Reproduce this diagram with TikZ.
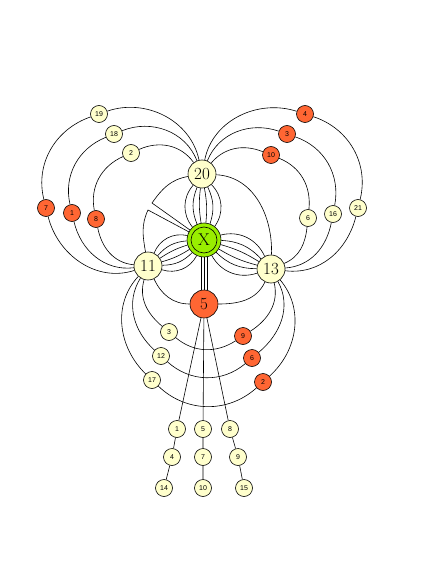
\documentclass[tikz,border=0pt]{standalone}
\usepackage{fontspec}
\setsansfont{Liberation Sans}
\definecolor{pale}{RGB}{255,255,204}
\definecolor{hotred}{RGB}{255,102,51}
\definecolor{xgreen}{RGB}{153,238,0}

\begin{document}
\begin{tikzpicture}[x=1pt,y=1pt,line width=0.6pt,
  bignode/.style={circle,draw,fill=pale,minimum size=28pt,inner sep=0pt,font=\fontsize{17}{17}\selectfont},
  smallnode/.style={circle,draw,fill=pale,minimum size=17pt,inner sep=0pt,font=\sffamily\fontsize{7}{7}\selectfont},
  rednode/.style={smallnode,fill=hotred}]
  \useasboundingbox (0,0) rectangle (436,-564);

  % centre and the four big ones
  \node[bignode,fill=xgreen,minimum size=34pt] (nX) at (204,-240) {X};
  \draw (nX.center) circle (13);
  \node[bignode] (n20) at (202,-174) {20};
  \node[bignode] (n11) at (148,-266) {11};
  \node[bignode] (n13) at (271,-269) {13};
  \node[bignode,fill=hotred] (n5) at (204,-304) {5};

  % left petal
  \node[smallnode] (l19) at (99,-114) {19};
  \node[smallnode] (l18) at (114,-134) {18};
  \node[smallnode] (l2) at (131,-153) {2};
  \node[rednode] (l7) at (46,-208) {7};
  \node[rednode] (l1) at (72,-213) {1};
  \node[rednode] (l8) at (96,-219) {8};

  % right petal
  \node[rednode] (r4) at (305,-114) {4};
  \node[rednode] (r3) at (287,-134) {3};
  \node[rednode] (r10) at (271,-155) {10};
  \node[smallnode] (r6) at (308,-218) {6};
  \node[smallnode] (r16) at (333,-214) {16};
  \node[smallnode] (r21) at (358,-208) {21};

  % bottom petal
  \node[smallnode] (b3) at (169,-332) {3};
  \node[smallnode] (b12) at (161,-356) {12};
  \node[smallnode] (b17) at (152,-380) {17};
  \node[rednode] (b9) at (243,-336) {9};
  \node[rednode] (b6) at (252,-358) {6};
  \node[rednode] (b2) at (263,-382) {2};

  % chains under 5
  \node[smallnode] (c1) at (177,-429) {1};
  \node[smallnode] (c4) at (172,-457) {4};
  \node[smallnode] (c14) at (164,-488) {14};
  \node[smallnode] (c5) at (203,-429) {5};
  \node[smallnode] (c7) at (203,-457) {7};
  \node[smallnode] (c10) at (203,-488) {10};
  \node[smallnode] (c8) at (230,-429) {8};
  \node[smallnode] (c9) at (238,-457) {9};
  \node[smallnode] (c15) at (244,-488) {15};

  % bundles round X
  \foreach \b in {8,22,40} {
    \draw (nX) to[bend left=\b] (n20);
    \draw (nX) to[bend right=\b] (n20);
    \draw (nX) to[bend left=\b] (n11);
    \draw (nX) to[bend right=\b] (n11);
    \draw (nX) to[bend left=\b] (n13);
    \draw (nX) to[bend right=\b] (n13);
  }
  \foreach \s in {-3,0,3}
    \draw ([xshift=\s pt]nX.south) -- ([xshift=\s pt]n5.north);

  % ring through the big ones
  \coordinate (wA) at (152,-203);
  \coordinate (wB) at (148,-210);
  \draw (n20) to[out=190,in=55] (wA) -- (nX);
  \draw (nX) -- (wB) to[out=245,in=100] (n11);
  \draw (n20) to[out=-3,in=88] (n13);
  \draw (n11) to[out=-65,in=180] (n5);
  \draw (n5) to[out=0,in=245] (n13);

  % left petal arcs
  \draw (n20) to[out=102,in=19] (l19) to[out=199,in=104] (l7) to[out=284,in=198] (n11);
  \draw (n20) to[out=111,in=22] (l18) to[out=202,in=103] (l1) to[out=283,in=187] (n11);
  \draw (n20) to[out=126,in=24] (l2) to[out=204,in=101] (l8) to[out=281,in=175] (n11);

  % right petal arcs
  \draw (n20) to[out=79,in=162] (r4) to[out=-18,in=76] (r21) to[out=-104,in=-7] (n13);
  \draw (n20) to[out=68,in=161] (r3) to[out=-19,in=79] (r16) to[out=-101,in=4] (n13);
  \draw (n20) to[out=50,in=158] (r10) to[out=-22,in=84] (r6) to[out=-96,in=23] (n13);

  % bottom petal arcs
  \draw (n11) to[out=254,in=140] (b3) to[out=320,in=213] (b9) to[out=33,in=283] (n13);
  \draw (n11) to[out=238,in=138] (b12) to[out=318,in=220] (b6) to[out=40,in=299] (n13);
  \draw (n11) to[out=227,in=136] (b17) to[out=316,in=222] (b2) to[out=42,in=310] (n13);

  % chains
  \draw (n5) -- (c1) -- (c4) -- (c14);
  \draw (n5) -- (c5) -- (c7) -- (c10);
  \draw (n5) -- (c8) -- (c9) -- (c15);
\end{tikzpicture}
\end{document}
